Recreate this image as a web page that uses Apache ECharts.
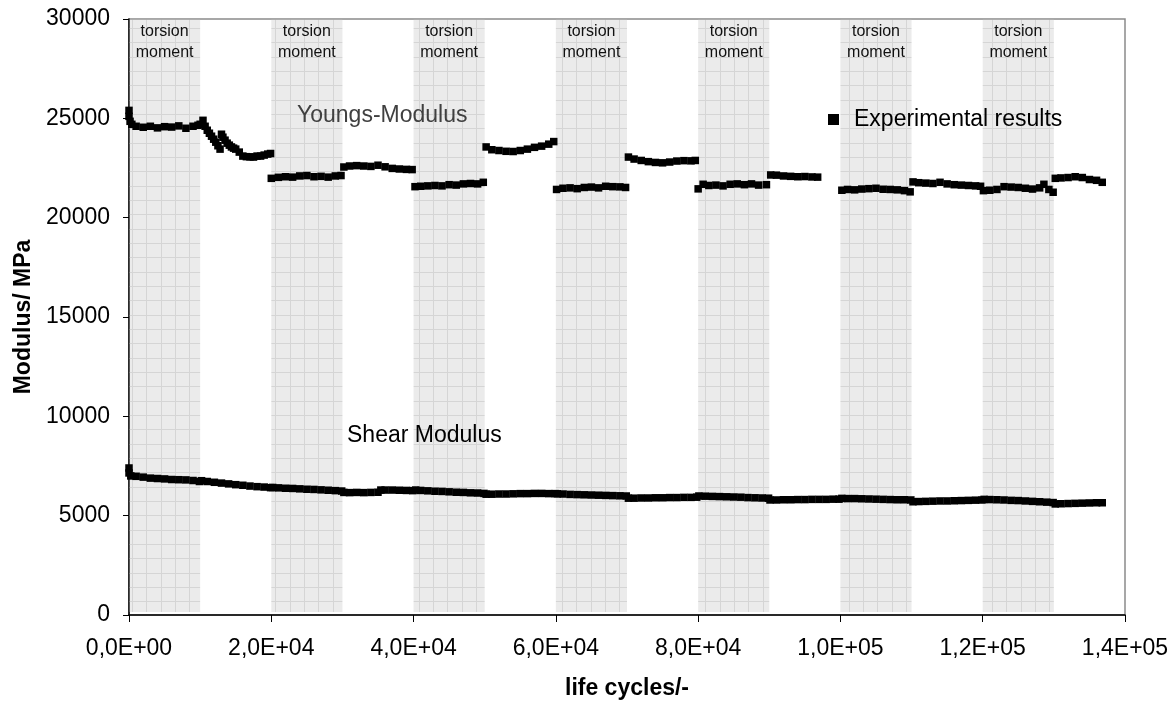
<!DOCTYPE html>
<html>
<head>
<meta charset="utf-8">
<script src="https://cdn.jsdelivr.net/npm/echarts@6/dist/echarts.min.js"></script>
<style>
html,body{margin:0;padding:0;background:#fff;}
#chart{width:1175px;height:706px;}
</style>
</head>
<body>
<div id="chart"></div>
<script>
// ---- data (life cycles, modulus in MPa) ----
const xTickLabels = ['0,0E+00','2,0E+04','4,0E+04','6,0E+04','8,0E+04','1,0E+05','1,2E+05','1,4E+05'];
const torsionBands = [[0,10000],[20000,30000],[40000,50000],[60000,70000],[80000,90000],[100000,110000],[120000,130000]];
const bandText = ['torsion','moment'];
const legendName = 'Experimental results';

const youngsModulus = [
  [0,25400],[0,25100],[150,24850],[400,24700],[1000,24600],[2000,24550],[3000,24600],[4000,24520],[5000,24580],[6000,24560],[7000,24620],[8000,24500],[9000,24600],[9700,24650],[10000,24700],
  [10400,24900],[10700,24600],[11000,24400],[11300,24250],[11600,24100],[11900,23950],[12200,23800],[12500,23620],[12800,23450],[13000,24200],[13200,24050],[13500,23900],[13800,23750],[14100,23650],[14400,23560],[14700,23500],[15000,23450],[15500,23300],[16000,23100],[16500,23070],[17000,23060],[17500,23050],[18000,23100],[18500,23100],[19000,23150],[19500,23200],[19900,23230],
  [20000,21980],[21000,22030],[22000,22060],[23000,22040],[24000,22100],[25000,22120],[26000,22060],[27000,22080],[28000,22040],[29000,22100],[29800,22120],
  [30200,22550],[31000,22600],[32000,22620],[33000,22600],[34000,22580],[35000,22640],[36000,22560],[37000,22480],[38000,22450],[39000,22430],[39800,22420],
  [40200,21560],[41000,21580],[42000,21600],[43000,21620],[44000,21600],[45000,21660],[46000,21640],[47000,21700],[48000,21720],[49000,21700],[49800,21780],
  [50200,23560],[51000,23420],[52000,23380],[53000,23340],[54000,23330],[55000,23380],[56000,23450],[57000,23540],[58000,23600],[59000,23700],[59700,23830],
  [60100,21420],[61000,21480],[62000,21500],[63000,21460],[64000,21520],[65000,21540],[66000,21500],[67000,21580],[68000,21560],[69000,21550],[69800,21520],
  [70200,23050],[71000,22950],[72000,22880],[73000,22820],[74000,22780],[75000,22760],[76000,22800],[77000,22850],[78000,22870],[79000,22860],[79600,22880],
  [80000,21450],[80700,21680],[81500,21620],[82500,21640],[83500,21600],[84500,21680],[85500,21700],[86500,21660],[87500,21700],[88500,21640],[89600,21660],
  [90200,22150],[91000,22140],[92000,22100],[93000,22080],[94000,22060],[95000,22070],[96000,22050],[96800,22040],
  [100200,21380],[101000,21420],[102000,21400],[103000,21440],[104000,21460],[105000,21480],[106000,21430],[107000,21420],[108000,21400],[109000,21360],[109800,21300],
  [110200,21800],[111000,21760],[112000,21740],[113000,21720],[114000,21780],[115000,21700],[116000,21660],[117000,21640],[118000,21620],[119000,21600],[119700,21580],
  [120100,21360],[121000,21380],[122000,21420],[123000,21560],[124000,21540],[125000,21520],[126000,21480],[127000,21440],[128000,21500],[128600,21680],[129300,21420],[129900,21280],
  [130200,21980],[131000,22000],[132000,22020],[133000,22060],[134000,22020],[135000,21920],[136000,21880],[136800,21780]
];

const shearModulus = [
  [0,7400],[0,7150],[250,7000],[1000,6980],[2000,6940],[3000,6890],[4000,6870],[5000,6850],[6000,6820],[7000,6810],[8000,6800],[9000,6770],[9900,6720],
  [10200,6760],[11000,6720],[12000,6680],[13000,6640],[14000,6600],[15000,6560],[16000,6530],[17000,6490],[18000,6460],[19000,6440],[19900,6410],
  [20200,6420],[21000,6400],[22000,6380],[23000,6370],[24000,6350],[25000,6330],[26000,6320],[27000,6300],[28000,6280],[29000,6260],[29900,6240],
  [30200,6170],[31000,6160],[32000,6170],[33000,6160],[34000,6170],[35000,6180],[35400,6290],[36000,6290],[37000,6290],[38000,6280],[39000,6270],[39900,6260],
  [40300,6290],[41000,6270],[42000,6250],[43000,6230],[44000,6220],[45000,6200],[46000,6180],[47000,6170],[48000,6150],[49000,6140],[49900,6120],
  [50200,6080],[51000,6080],[52000,6090],[53000,6090],[54000,6100],[55000,6110],[56000,6110],[57000,6120],[58000,6120],[59000,6110],[59900,6110],
  [60200,6100],[61000,6090],[62000,6070],[63000,6060],[64000,6050],[65000,6040],[66000,6030],[67000,6020],[68000,6010],[69000,6000],[69900,5990],
  [70200,5880],[71000,5880],[72000,5890],[73000,5890],[74000,5900],[75000,5900],[76000,5910],[77000,5910],[78000,5920],[79000,5920],[79800,5930],
  [80100,5990],[81000,5980],[82000,5970],[83000,5960],[84000,5950],[85000,5940],[86000,5930],[87000,5910],[88000,5900],[89000,5890],[89900,5880],
  [90100,5790],[91000,5790],[92000,5800],[93000,5800],[94000,5810],[95000,5810],[96000,5820],[97000,5820],[98000,5820],[99000,5830],[99800,5830],
  [100200,5870],[101000,5860],[102000,5860],[103000,5850],[104000,5840],[105000,5830],[106000,5820],[107000,5810],[108000,5800],[109000,5800],[109900,5790],
  [110200,5700],[111000,5710],[112000,5720],[113000,5730],[114000,5740],[115000,5740],[116000,5750],[117000,5760],[118000,5770],[119000,5780],[119900,5790],
  [120200,5820],[121000,5810],[122000,5800],[123000,5790],[124000,5770],[125000,5760],[126000,5740],[127000,5720],[128000,5700],[129000,5680],[129900,5660],
  [130200,5590],[131000,5600],[132000,5610],[133000,5620],[134000,5630],[135000,5640],[136000,5650],[136800,5650]
];

// ---- band texture (semi-transparent grey with a fine grid) ----
function makeBandPattern() {
  const s = 43;
  const c = document.createElement('canvas');
  c.width = s; c.height = s;
  const g = c.getContext('2d');
  g.fillStyle = 'rgba(187,187,187,0.294)';
  g.fillRect(0, 0, s, s);
  const line = 'rgba(175,175,175,0.52)';
  [3, 17, 32].forEach(function (x) { g.clearRect(x, 0, 1, s); g.fillStyle = line; g.fillRect(x, 0, 1, s); });
  [14, 28, 42].forEach(function (y) { g.clearRect(0, y, s, 1); g.fillStyle = line; g.fillRect(0, y, s, 1); });
  return c;
}

const FONT = '"Liberation Sans", Arial, sans-serif';
const chart = echarts.init(document.getElementById('chart'), null, {renderer: 'canvas'});

const markerStyle = {color: '#000', opacity: 1};

const option = {
  backgroundColor: '#fff',
  animation: false,
  textStyle: {fontFamily: FONT},
  grid: {left: 129, right: 50, top: 19, bottom: 91, show: true, borderColor: '#8a8a8a', borderWidth: 1.5, backgroundColor: 'transparent'},
  legend: {
    data: [legendName],
    left: 828, top: 108, padding: 0,
    icon: 'rect', itemWidth: 11, itemHeight: 11,
    z: 3,
    selectedMode: false,
    itemStyle: {opacity: 1},
    textStyle: {fontFamily: FONT, fontSize: 23, color: '#000', padding: [0, 0, 0, 10]}
  },
  xAxis: {
    type: 'value', min: 0, max: 140000, interval: 20000,
    name: 'life cycles/-', nameLocation: 'middle', nameGap: 62,
    nameTextStyle: {fontFamily: FONT, fontSize: 23, fontWeight: 'bold', color: '#000'},
    axisLine: {show: true, onZero: false, lineStyle: {color: '#000', width: 1.5}},
    axisTick: {show: true, length: 7, lineStyle: {color: '#000', width: 1}},
    axisLabel: {fontFamily: FONT, fontSize: 23, color: '#000', margin: 22,
      formatter: function (v) { return xTickLabels[Math.round(v / 20000)]; }},
    splitLine: {show: false}
  },
  yAxis: {
    type: 'value', min: 0, max: 30000, interval: 5000,
    name: 'Modulus/ MPa', nameLocation: 'middle', nameGap: 94,
    nameTextStyle: {fontFamily: FONT, fontSize: 23, fontWeight: 'bold', color: '#000'},
    axisLine: {show: true, lineStyle: {color: '#000', width: 1.5}},
    axisTick: {show: true, length: 6, lineStyle: {color: '#000', width: 1}},
    axisLabel: {fontFamily: FONT, fontSize: 23, color: '#000', margin: 19,
      formatter: function (v) { return String(v); }},
    splitLine: {show: false}
  },
  series: [
    {
      name: legendName, type: 'scatter', symbol: 'rect', symbolSize: 7.5,
      itemStyle: markerStyle, z: 2, silent: true,
      data: youngsModulus
    },
    {
      name: legendName, type: 'scatter', symbol: 'rect', symbolSize: 7.5,
      itemStyle: markerStyle, z: 2, silent: true,
      data: shearModulus
    },
    {
      name: 'bands', type: 'scatter', data: [], z: 10, silent: true,
      markArea: {
        silent: true,
        itemStyle: {color: {image: makeBandPattern(), repeat: 'repeat'}, borderWidth: 0, opacity: 1},
        label: {
          show: true, position: 'insideTop', distance: 2,
          formatter: bandText.join('\n'),
          fontFamily: FONT, fontSize: 16, lineHeight: 21, color: '#111'
        },
        data: torsionBands.map(function (b) {
          return [{xAxis: b[0], yAxis: 150}, {xAxis: b[1], yAxis: 30000}];
        })
      }
    }
  ],
  graphic: [
    {
      type: 'text', left: 297, top: 104, z: 20, silent: true,
      style: {text: 'Youngs-Modulus', fontFamily: FONT, fontSize: 23, fill: '#404040'}
    },
    {
      type: 'text', left: 347, top: 424, z: 20, silent: true,
      style: {
        text: '{a|Shear} {b|Modulus}', fontFamily: FONT, fontSize: 23,
        rich: {
          a: {fontFamily: FONT, fontSize: 23, color: '#000'},
          b: {fontFamily: FONT, fontSize: 23, color: '#404040'}
        }
      }
    }
  ]
};
chart.setOption(option);
</script>
</body>
</html>
